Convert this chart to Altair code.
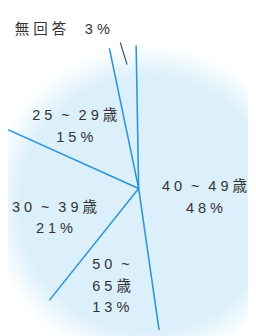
import math
import altair as alt
import pandas as pd

# ---- data ----
categories = ["40～49歳", "50～65歳", "30～39歳", "25～29歳", "無回答"]
values = [48, 13, 21, 15, 3]

# ---- layout (chart pixel coordinates) ----
W, H = 248, 328
CX, CY = 135, 181          # pie centre
R = 148                    # radius of the drawn dividers
BG_CX, BG_CY, BG_R = 144, 197, 165
START = -math.radians(1)
LINE_COLOR = "#1b8bd3"
TEXT_COLOR = "#333333"
FONT = "Liberation Sans, Noto Sans CJK JP, sans-serif"

label_layout = {
    "40～49歳": dict(x=203, y=184, align="center", split=None),
    "50～65歳": dict(x=87, y=264, align="left", split=3),
    "30～39歳": dict(x=48, y=205, align="center", split=None),
    "25～29歳": dict(x=69, y=110, align="center", split=None),
    "無回答": dict(x=7, y=21, align="left", split="inline"),
}


def spaced(s):
    out = " ".join(s)
    # small tilde with wide gaps, as in the original typesetting
    return out.replace(" ～ ", " \u2004~\u2004 ").replace(" ～", " \u2004~")


df = pd.DataFrame({"cat": categories, "value": values, "idx": list(range(len(categories)))})

# background radial glow
gradient = {
    "gradient": "radial",
    "x1": 0.5, "y1": 0.5, "r1": 0,
    "x2": 0.5, "y2": 0.5, "r2": 0.5,
    "stops": [
        {"offset": 0, "color": "#dcf0fb"},
        {"offset": 0.8, "color": "#dcf0fb"},
        {"offset": 1, "color": "#ffffff"},
    ],
}
bg = alt.Chart(pd.DataFrame({"a": [0]})).mark_arc(
    theta=0, theta2=2 * math.pi, radius=BG_R, fill=gradient
).encode(x=alt.value(BG_CX), y=alt.value(BG_CY))

# pie dividers: one radial rule at the end of every slice
pie = alt.Chart(df).transform_joinaggregate(
    total="sum(value)"
).transform_window(
    cum="sum(value)", sort=[alt.SortField("idx", order="ascending")], frame=[None, 0]
).transform_calculate(
    ang=f"{START} + 2 * PI * datum.cum / datum.total"
).transform_calculate(
    ex=f"{CX} + {R} * sin(datum.ang)",
    ey=f"{CY} - {R} * cos(datum.ang)",
).mark_rule(
    color=LINE_COLOR, strokeWidth=1.6, strokeOpacity=0.9
).encode(
    x=alt.X("ex:Q", scale=None),
    y=alt.Y("ey:Q", scale=None),
    x2=alt.value(CX),
    y2=alt.value(CY),
)

leader = alt.Chart(pd.DataFrame({"a": [0]})).mark_rule(color="#222222", strokeWidth=1).encode(
    x=alt.value(116), y=alt.value(30), x2=alt.value(123), y2=alt.value(53)
)

rows = []
for c, v in zip(categories, values):
    lay = label_layout[c]
    pct = spaced(f"{v}%")
    if lay["split"] == "inline":
        text = spaced(c) + " \u3000" + pct
    elif isinstance(lay["split"], int):
        k = lay["split"]
        text = spaced(c[:k]) + "\n" + spaced(c[k:]) + "\n" + pct
    else:
        text = spaced(c) + "\n" + pct
    rows.append({"text": text, "px": lay["x"], "py": lay["y"], "align": lay["align"]})
lab = pd.DataFrame(rows)

text_layers = []
for al in ["center", "left"]:
    text_layers.append(
        alt.Chart(lab[lab["align"] == al]).mark_text(
            align=al, baseline="alphabetic", fontSize=15, font=FONT, color=TEXT_COLOR,
            lineBreak="\n", lineHeight=22.5,
        ).encode(
            x=alt.X("px:Q", scale=None),
            y=alt.Y("py:Q", scale=None),
            text="text:N",
        )
    )

chart = alt.layer(bg, pie, leader, *text_layers).properties(
    width=W, height=H, autosize=alt.AutoSizeParams(type="none"), padding=0
).configure_view(strokeWidth=0)

chart.save("out.html", embed_options={"renderer": "svg", "actions": False})
